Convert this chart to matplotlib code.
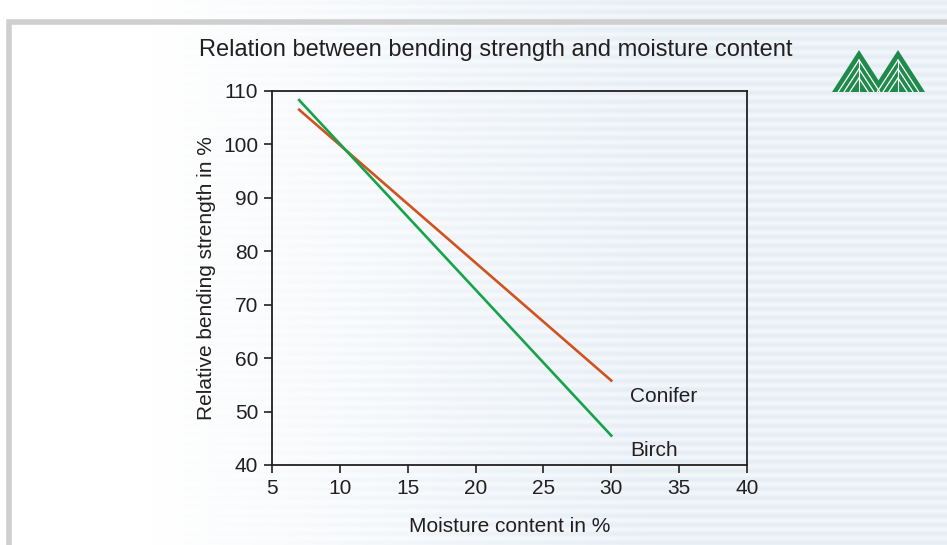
import numpy as np
import matplotlib.pyplot as plt
from matplotlib.patches import Polygon, Rectangle

# values
moisture = [7, 30]
conifer = [106.5, 55.8]
birch = [108.3, 45.5]
series_names = ["Conifer", "Birch"]
x_ticks = [5, 10, 15, 20, 25, 30, 35, 40]
y_ticks = [40, 50, 60, 70, 80, 90, 100, 110]

CONIFER_COLOR = "#d0521f"
BIRCH_COLOR = "#17a34a"
TEXT_COLOR = "#231f20"

plt.rcParams["font.family"] = ["Liberation Sans", "DejaVu Sans"]

W, H = 947, 545
fig = plt.figure(figsize=(W / 100, H / 100), dpi=100)
fig.patch.set_facecolor("white")

# striped, faded background
bg = fig.add_axes([0, 0, 1, 1], zorder=-10)
rows = np.arange(H)
cols = np.arange(W)
stripe = 0.5 + 0.5 * np.sin(rows * 2 * np.pi / 9.0)
fade = np.clip((cols - 150) / 500.0, 0, 1)
img = np.ones((H, W, 3))
tint = np.array([0.90, 0.93, 0.96])
amt = fade[None, :] * (0.5 + 0.5 * stripe[:, None])
for k in range(3):
    img[:, :, k] = 1.0 + (tint[k] - 1.0) * amt
bg.imshow(img, extent=[0, W, 0, H], aspect="auto", origin="upper")
bg.set_xlim(0, W)
bg.set_ylim(0, H)
bg.axis("off")

# light grey frame
bg.add_patch(Rectangle((9, -5), W, H - 17, fill=False, ec="#cfcfcf", lw=4))


# logo: two striped trees
def tree(cx, base_y, half_w, height):
    bg.add_patch(Polygon([[cx - half_w, base_y], [cx, base_y + height],
                          [cx + half_w, base_y]], closed=True,
                         fc="#1f8a4c", ec="none"))
    slope = height / half_w
    for drop in [10, 19, 28]:
        y0 = base_y + height - drop
        dx = (y0 - base_y) / slope
        bg.plot([cx, cx - dx], [y0, base_y + 0.5], color="white", lw=0.9)
        bg.plot([cx, cx + dx], [y0, base_y + 0.5], color="white", lw=0.9)
    bg.plot([cx, cx], [base_y, base_y + height - 10], color="white", lw=0.8)


tree(859, 453, 27, 42)
tree(898, 453, 27, 42)

ax = fig.add_axes([272 / W, 80 / H, 475 / W, 374 / H])
ax.patch.set_alpha(0)

ax.plot(moisture, conifer, color=CONIFER_COLOR, lw=1.9)
ax.plot(moisture, birch, color=BIRCH_COLOR, lw=1.9)

ax.text(31.4, conifer[-1] - 3.0, series_names[0], fontsize=15, color=TEXT_COLOR,
        va="center", ha="left")
ax.text(31.4, birch[-1] - 2.8, series_names[1], fontsize=15, color=TEXT_COLOR,
        va="center", ha="left")

ax.set_xlim(5, 40)
ax.set_ylim(40, 110)
ax.set_xticks(x_ticks)
ax.set_yticks(y_ticks)
ax.tick_params(direction="out", length=6, width=1.2, labelsize=15,
               colors=TEXT_COLOR, pad=4)
for sp in ax.spines.values():
    sp.set_color(TEXT_COLOR)
    sp.set_linewidth(1.3)

ax.set_xlabel("Moisture content in %", fontsize=15, color=TEXT_COLOR, labelpad=14)
ax.set_ylabel("Relative bending strength in %", fontsize=15, color=TEXT_COLOR,
              labelpad=5)

fig.text(199 / W, 1 - 50 / H, "Relation between bending strength and moisture content",
         fontsize=17, color=TEXT_COLOR, va="center", ha="left")

fig.savefig("out.png", dpi=100)
